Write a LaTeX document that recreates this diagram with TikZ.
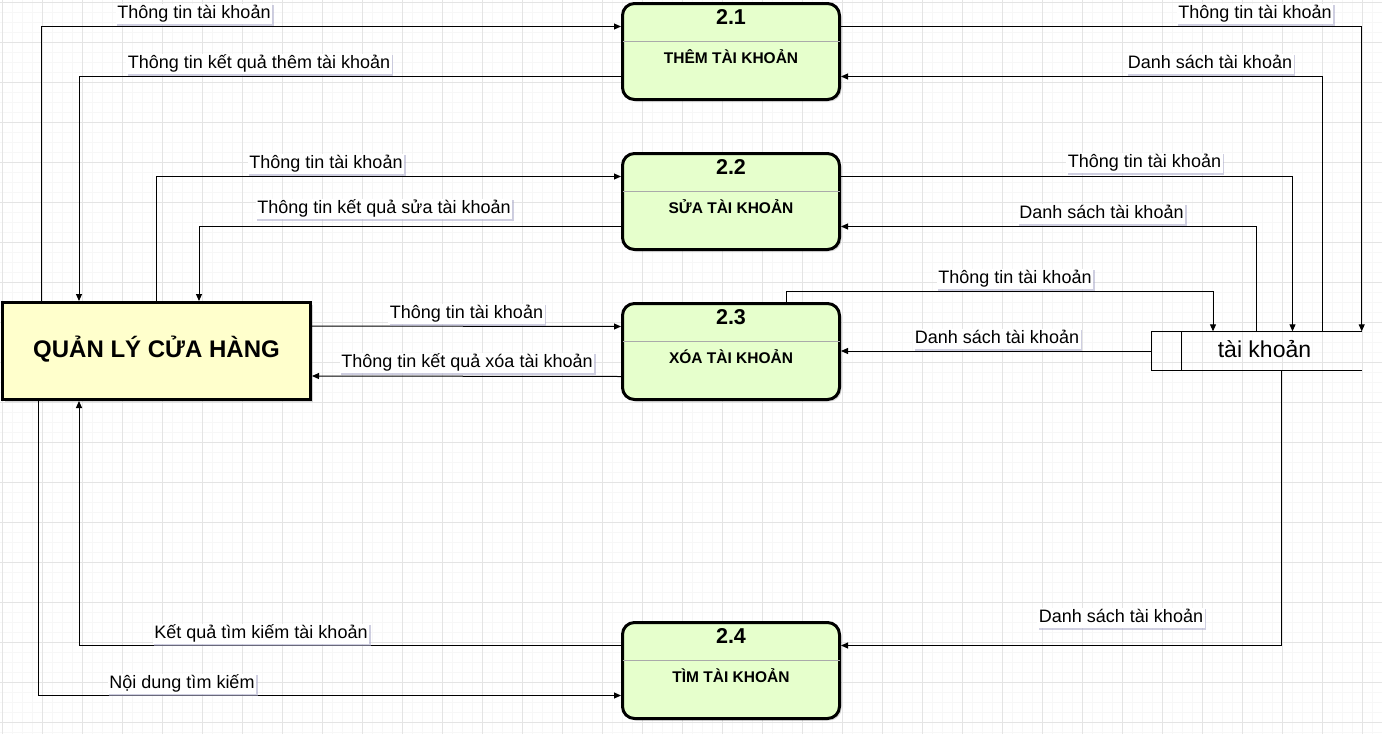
\documentclass[tikz,border=0pt]{standalone}
\usepackage{fontspec}
\setmainfont{Liberation Sans}
\usetikzlibrary{arrows.meta,calc,shadows}
\definecolor{entfill}{RGB}{255,255,204}
\definecolor{procfill}{RGB}{230,255,204}
\definecolor{gridmin}{RGB}{247,247,247}
\definecolor{gridmaj}{RGB}{228,228,228}
\definecolor{shad}{RGB}{175,175,205}
\definecolor{divgray}{RGB}{170,170,170}
\tikzset{
  flow/.style={draw=black, line width=1pt, -{Triangle[length=7pt,width=6pt]}},
  lbl/.style={fill=white, font=\fontsize{18}{20}\selectfont, inner xsep=1.5pt, inner ysep=2pt,
    text height=12.6pt, text depth=3.7pt,
    drop shadow={shadow xshift=1.5pt, shadow yshift=-1.5pt, fill=shad, opacity=0.6}},
  proc/.style={draw=black, line width=3pt, fill=procfill, rounded corners=12pt,
    minimum width=217pt, minimum height=96pt, inner sep=0pt,
    drop shadow={shadow xshift=2pt, shadow yshift=-2pt, fill=black, opacity=0.15}},
  ent/.style={draw=black, line width=3pt, fill=entfill, minimum width=308pt, minimum height=97pt,
    inner sep=0pt, font=\bfseries\fontsize{24}{28}\selectfont, text height=0.72em, text depth=0pt,
    drop shadow={shadow xshift=2pt, shadow yshift=-2pt, fill=black, opacity=0.15}},
  enttxt/.style={font=\bfseries\fontsize{24}{28}\selectfont, inner sep=0pt, text height=0.72em, text depth=0pt},
  numtxt/.style={font=\bfseries\fontsize{21.5}{24}\selectfont, inner sep=0pt, text height=0.72em, text depth=0pt},
  ttltxt/.style={font=\bfseries\fontsize{15.5}{18}\selectfont, inner sep=0pt, text height=0.72em, text depth=0pt},
  divline/.style={draw=divgray, line width=1pt},
  storebox/.style={draw=none, minimum width=210pt, minimum height=39pt, inner sep=0pt},
  storeline/.style={draw=black, line width=1pt},
  storetxt/.style={font=\fontsize{23}{26}\selectfont, inner sep=0pt, text height=0.72em, text depth=0pt},
  gmin/.style={draw=gridmin, line width=1pt},
  gmaj/.style={draw=gridmaj, line width=1pt}
}
\begin{document}
\begin{tikzpicture}[x=1pt,y=-1pt]
\useasboundingbox (0,0) rectangle (1382,734);
\fill[white] (0,0) rectangle (1382,734);
\foreach \gx in {2,12,...,1382} \draw[gmin] (\gx,0) -- (\gx,734);
\foreach \gy in {2,12,...,734} \draw[gmin] (0,\gy) -- (1382,\gy);
\foreach \gx in {2,42,...,1382} \draw[gmaj] (\gx,0) -- (\gx,734);
\foreach \gy in {2,42,...,734} \draw[gmaj] (0,\gy) -- (1382,\gy);

% entity
\node[ent] (ent) at (156.5,351) {};
\node[enttxt] (entt) at ($(ent.center)+(0,3)$) {QUẢN LÝ CỬA HÀNG};

% processes
\node[proc] (p1) at (731,51.5) {};
\node[proc] (p2) at (731,201.5) {};
\node[proc] (p3) at (731,351.5) {};
\node[proc] (p4) at (731,670.5) {};
\foreach \p/\n/\t in {p1/2.1/THÊM TÀI KHOẢN, p2/2.2/SỬA TÀI KHOẢN, p3/2.3/XÓA TÀI KHOẢN, p4/2.4/TÌM TÀI KHOẢN}{
  \draw[divline] ($(\p.west)+(1.5,-10.5)$) -- ($(\p.east)+(-1.5,-10.5)$);
  \node[numtxt] (\p n) at ($(\p.center)+(0,-30.5)$) {\n};
  \node[ttltxt] (\p t) at ($(\p.center)+(0,8)$) {\t};
}

% data store
\node[storebox] (ds) at (1256.5,351) {};
\draw[storeline] (ds.north east) -- (ds.north west) -- (ds.south west) -- (ds.south east);
\draw[storeline] ($(ds.north west)+(30,0)$) -- ($(ds.south west)+(30,0)$);
\node[storetxt] (dst) at ($(ds.center)+(8,3)$) {tài khoản};

% left connectors
\draw[flow] ($(ent.north)+(-115,0)$) |- ($(p1.west)+(0,-25)$);
\draw[flow] ($(p1.west)+(0,25)$) -| ($(ent.north)+(-77.5,0)$);
\draw[flow] (ent.north) |- ($(p2.west)+(0,-25)$);
\draw[flow] ($(p2.west)+(0,25)$) -| ($(ent.north)+(42.5,0)$);
\draw[flow] ($(ent.east)+(0,-25)$) -- ($(p3.west)+(0,-25)$);
\draw[flow] ($(p3.west)+(0,25)$) -- ($(ent.east)+(0,25)$);
\draw[flow] ($(ent.south)+(-118.5,0)$) |- ($(p4.west)+(0,25)$);
\draw[flow] ($(p4.west)+(0,-25)$) -| ($(ent.south)+(-77.5,0)$);

% right connectors
\draw[flow] ($(p1.east)+(0,-25)$) -| (ds.north east);
\draw[flow] ($(ds.north)+(65.5,0)$) |- ($(p1.east)+(0,25)$);
\draw[flow] ($(p2.east)+(0,-25)$) -| ($(ds.north)+(36,0)$);
\draw[flow] (ds.north) |- ($(p2.east)+(0,25)$);
\draw[flow] ($(p3.north)+(55.5,0)$) |- ($(ds.north)+(-43.5,-40)$) -- ($(ds.north)+(-43.5,0)$);
\draw[flow] (ds.west) -- (ds.west -| p3.east);
\draw[flow] ($(ds.south)+(25,0)$) |- ($(p4.east)+(0,-25)$);

% labels
\node[lbl] (l1) at (194,14) {Thông tin tài khoản};
\node[lbl] (l2) at (259,64) {Thông tin kết quả thêm tài khoản};
\node[lbl] (l3) at (326,164) {Thông tin tài khoản};
\node[lbl] (l4) at (384,209) {Thông tin kết quả sửa tài khoản};
\node[lbl] (l5) at (466.5,314) {Thông tin tài khoản};
\node[lbl] (l6) at (467,363) {Thông tin kết quả xóa tài khoản};
\node[lbl] (l7) at (182,684) {Nội dung tìm kiếm};
\node[lbl] (l8) at (261,634) {Kết quả tìm kiếm tài khoản};
\node[lbl] (l9) at (1255,14) {Thông tin tài khoản};
\node[lbl] (l10) at (1210,64) {Danh sách tài khoản};
\node[lbl] (l11) at (1144.5,163) {Thông tin tài khoản};
\node[lbl] (l12) at (1101.5,214) {Danh sách tài khoản};
\node[lbl] (l13) at (1015,279) {Thông tin tài khoản};
\node[lbl] (l14) at (997,339) {Danh sách tài khoản};
\node[lbl] (l15) at (1121,618) {Danh sách tài khoản};
\end{tikzpicture}
\end{document}
